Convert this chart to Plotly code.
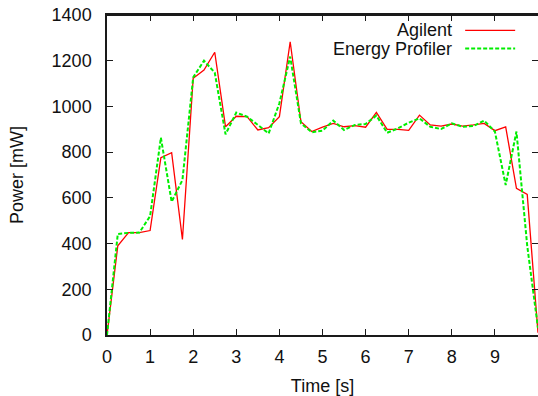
import plotly.graph_objects as go

time_s = [0.0, 0.25, 0.5, 0.75, 1.0, 1.25, 1.5, 1.75, 2.0, 2.25, 2.5, 2.75,
          3.0, 3.25, 3.5, 3.75, 4.0, 4.25, 4.5, 4.75, 5.0, 5.25, 5.5, 5.75,
          6.0, 6.25, 6.5, 6.75, 7.0, 7.25, 7.5, 7.75, 8.0, 8.25, 8.5, 8.75,
          9.0, 9.25, 9.5, 9.75, 10.0]

agilent = [0, 390, 448, 448, 457, 776, 798, 418, 1123, 1159, 1237, 911,
           957, 955, 897, 907, 955, 1283, 933, 890, 909, 926, 911, 916,
           909, 974, 900, 900, 895, 962, 919, 914, 923, 914, 919, 926,
           894, 911, 642, 615, 10]

energy_profiler = [0, 442, 447, 448, 520, 863, 583, 678, 1127, 1200, 1148, 878,
                   973, 955, 919, 882, 1014, 1218, 926, 887, 894, 938, 897, 919,
                   923, 960, 885, 904, 929, 948, 911, 901, 926, 911, 914, 938,
                   890, 656, 890, 390, 30]

x_ticks = [0, 1, 2, 3, 4, 5, 6, 7, 8, 9]
y_ticks = [0, 200, 400, 600, 800, 1000, 1200, 1400]

series_names = ["Agilent", "Energy Profiler"]
series_colors = ["#ff0000", "#00ee00"]

FONT = "Liberation Sans, Arial, sans-serif"

fig = go.Figure()
fig.add_trace(go.Scatter(x=time_s, y=agilent, mode="lines", name=series_names[0],
                         line=dict(color=series_colors[0], width=1.3), showlegend=False,
                         cliponaxis=True))
fig.add_trace(go.Scatter(x=time_s, y=energy_profiler, mode="lines", name=series_names[1],
                         line=dict(color=series_colors[1], width=2, dash="4px,2px"),
                         showlegend=False, cliponaxis=True))

# gnuplot-style key: right-aligned text followed by a line sample
key_rows = [0.952, 0.895]
for name, color, yk, dash, w in zip(series_names, series_colors, key_rows,
                                    ["solid", "4px,2px"], [1.3, 2]):
    fig.add_annotation(x=0.806, y=yk, xref="paper", yref="paper", text=name,
                       showarrow=False, xanchor="right", yanchor="middle",
                       font=dict(family=FONT, size=18, color="#111111"))
    fig.add_shape(type="line", xref="paper", yref="paper", x0=0.831, x1=0.947,
                  y0=yk, y1=yk, line=dict(color=color, width=w, dash=dash))

# plot frame (top edge drawn explicitly)
fig.add_shape(type="line", xref="paper", yref="paper", x0=0, x1=1, y0=1, y1=1,
              line=dict(color="#1a1a1a", width=2), layer="above")

axis_common = dict(
    showgrid=False, zeroline=False, showline=True, linecolor="#1a1a1a", linewidth=1.5,
    mirror="ticks", ticks="inside", ticklen=6, tickcolor="#1a1a1a", tickwidth=1,
    tickfont=dict(family=FONT, size=18, color="#111111"),
)

fig.update_layout(
    width=538, height=396,
    margin=dict(l=107, r=0, t=15, b=61),
    paper_bgcolor="white", plot_bgcolor="white",
    font=dict(family=FONT, size=18, color="#111111"),
    xaxis=dict(range=[0, 10], tickvals=x_ticks, ticktext=[str(v) for v in x_ticks],
               title=dict(text="Time [s]", standoff=15, font=dict(family=FONT, size=18)),
               ticklabelstandoff=5, automargin=False, **axis_common),
    yaxis=dict(range=[0, 1400], tickvals=y_ticks, ticktext=[str(v) for v in y_ticks],
               title=dict(text="Power [mW]", standoff=23, font=dict(family=FONT, size=18)),
               ticklabelstandoff=10, automargin=False, **axis_common),
)

fig.write_html(
    "out.html",
    config={"displayModeBar": False},
    post_script="document.body.style.margin='0';"
                "document.documentElement.style.overflow='hidden';"
                "document.body.style.overflow='hidden';",
)
